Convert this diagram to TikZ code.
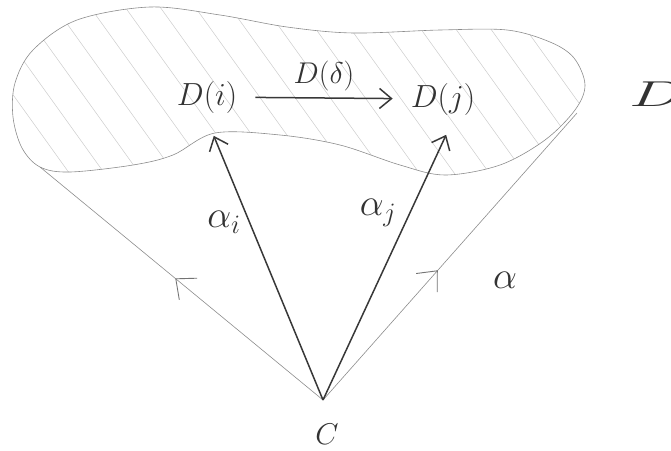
\RequirePackage{fix-cm}
\documentclass[tikz,border=0pt]{standalone}
\usetikzlibrary{arrows.meta}
\begin{document}
\begin{tikzpicture}[x=1pt,y=-1pt,
 outline/.style={draw=black!45, line width=0.6pt},
 hatch/.style={draw=black!20, line width=0.5pt},
 morph/.style={draw=black!78, line width=1.5pt, -{Straight Barb[length=12pt,width=20pt]}},
 lbl/.style={inner sep=1pt, text=black!80},
 vmark/.style={draw=black!55, line width=0.9pt},
]
\useasboundingbox (0,0) rectangle (671,450);

% hatching inside the blob
\begin{scope}
\clip plot[smooth cycle, tension=0.55] coordinates {(40,167) (70,172) (133,165) (173,155) (215,133) (280,135) (340,145) (400,165) (445,175) (500,165) (545,140) (575,110) (585,85) (574,58) (550,42) (507,30) (440,30) (353,33) (287,27) (220,15) (150,7) (77,20) (33,50) (15,83) (13,117) (22,148)};
\foreach \x in {-160,-125,...,620} {
  \draw[hatch] (\x,0) -- ++(140,195);
}
\end{scope}

% blob outline
\draw[outline] plot[smooth cycle, tension=0.55] coordinates {(40,167) (70,172) (133,165) (173,155) (215,133) (280,135) (340,145) (400,165) (445,175) (500,165) (545,140) (575,110) (585,85) (574,58) (550,42) (507,30) (440,30) (353,33) (287,27) (220,15) (150,7) (77,20) (33,50) (15,83) (13,117) (22,148)};

% apex and cone edges
\coordinate (apex) at (323,400);
\coordinate (bl) at (40,167);
\coordinate (br) at (577,113);
\draw[outline] (apex) -- (bl);
\draw[outline] (apex) -- (br);
% direction marks on the cone edges
\draw[vmark] (197.1,278.2) -- (175.8,278.8) -- (179.3,299.8);
\draw[vmark] (416.2,273.5) -- (437.3,270.8) -- (437.2,292.1);

% nodes
\node[lbl, font=\fontsize{32}{38}\selectfont] (Di) at (207,97) {$D(i)$};
\node[lbl, font=\fontsize{32}{38}\selectfont] (Dj) at (443,99) {$D(j)$};
\node[lbl, font=\fontsize{36}{42}\selectfont, anchor=west, xscale=1.8] (D) at (627,94) {$D$};
\node[lbl, font=\fontsize{30}{36}\selectfont] (C) at (327,434) {$C$};

% morphisms
\draw[morph, shorten <=17pt, shorten >=17pt] (Di) -- (Dj)
  node[midway, above=5pt, lbl, font=\fontsize{30}{34}\selectfont] (Dd) {$D(\delta)$};
\draw[morph, shorten >=2pt] (apex) -- (213,134) coordinate (ti);
\draw[morph, shorten >=2pt] (apex) -- (447,133) coordinate (tj);

% cone labels
\node[lbl, font=\fontsize{38}{44}\selectfont] (ai) at (224,222) {$\alpha_i$};
\node[lbl, font=\fontsize{38}{44}\selectfont] (aj) at (378,213) {$\alpha_j$};
\node[lbl, font=\fontsize{38}{44}\selectfont] (a) at (505,280) {$\alpha$};
\end{tikzpicture}
\end{document}
